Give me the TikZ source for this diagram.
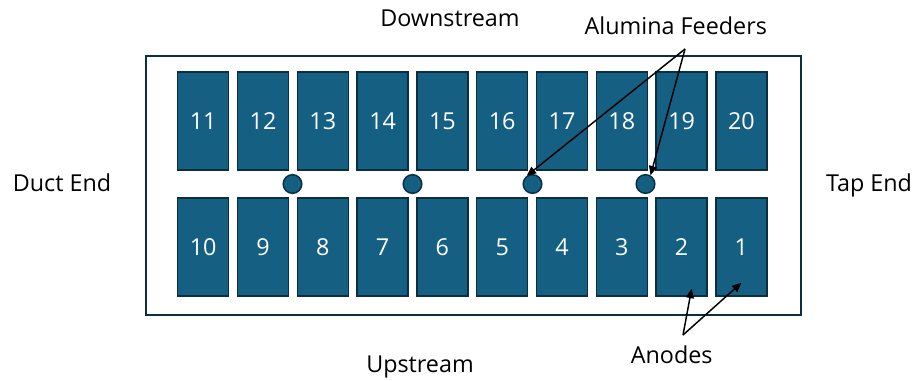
\documentclass[tikz,border=0pt]{standalone}
\usepackage{fontspec}
\setmainfont{Open Sans}
\usetikzlibrary{arrows.meta,calc}
\definecolor{anodefill}{HTML}{156082}
\definecolor{anodeline}{HTML}{0A2F41}
\tikzset{
  anode/.style={draw=anodeline, line width=1.1pt, fill=anodefill, inner sep=0pt,
    minimum width=38.2pt, minimum height=73.7pt, text=white,
    font=\fontsize{17.5}{20}\selectfont},
  feeder/.style={circle, draw=anodeline, line width=1.1pt, fill=anodefill,
    inner sep=0pt, minimum size=14pt},
  label/.style={anchor=base, inner sep=0pt, font=\fontsize{17.5}{20}\selectfont},
  pointer/.style={line width=1.1pt, -{Triangle[length=7pt,width=6pt]}},
}
\begin{document}
\begin{tikzpicture}[x=0.75pt,y=-0.75pt]
  \useasboundingbox (0,0) rectangle (919,380);
  % cell outline
  \draw[anodeline, line width=1.3pt] (146,56) rectangle (801,315);
  % anodes: downstream row 11..20, upstream row 10..1
  \foreach \i in {0,...,9}{
    \pgfmathtruncatemacro{\top}{11+\i}
    \pgfmathtruncatemacro{\bot}{10-\i}
    \node[anode] (a\top) at (203.2+59.8*\i,120.9) {\top};
    \node[anode] (a\bot) at (203.2+59.8*\i,246.9) {\bot};
  }
  % alumina feeders
  \node[feeder] (f1) at (292.5,184) {};
  \node[feeder] (f2) at (412.5,184) {};
  \node[feeder] (f3) at (532.5,184) {};
  \node[feeder] (f4) at (645.5,184) {};
  % side labels
  \node[label] (down) at (450,26.7) {Downstream};
  \node[label] (up) at (420,372) {Upstream};
  \node[label] (duct) at (62,191.7) {Duct End};
  \node[label] (tap) at (869,191.7) {Tap End};
  % callouts
  \node[label] (feeders) at (675.8,34) {Alumina Feeders};
  \node[label] (anodes) at (671.7,363.3) {Anodes};
  \coordinate (fsrc) at (685,49);
  \coordinate (asrc) at (683,335);
  \draw[pointer] (fsrc) -- (f3.125);
  \draw[pointer] (fsrc) -- (f4.60);
  \draw[pointer] (asrc) -- ($(a2.south)+(10,-8)$);
  \draw[pointer] (asrc) -- ($(a1.south)+(0,-14)$);
\end{tikzpicture}
\end{document}
